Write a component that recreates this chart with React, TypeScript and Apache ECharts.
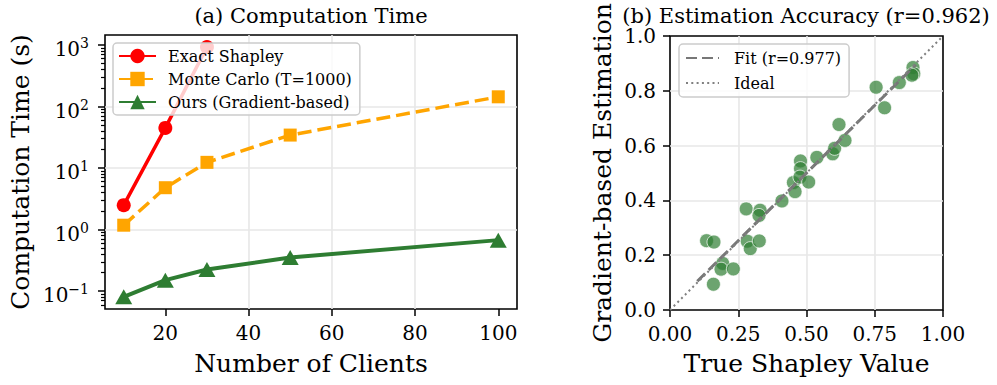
import React, { useEffect, useRef } from 'react';
import * as echarts from 'echarts';

// ---------- data ----------
const clients = [10, 20, 30, 50, 100];
const exactClients = [10, 20, 30];
const exactShapley = [2.5, 45, 930];
const monteCarlo = [1.18, 4.8, 12.4, 34.4, 144];
const ours = [0.081, 0.151, 0.225, 0.353, 0.675];

const xTicksLeft = [20, 40, 60, 80, 100];
const yMajorLeft = [0.1, 1, 10, 100, 1000];
const yMinorLeft = [
  0.06, 0.07, 0.08, 0.09,
  0.2, 0.3, 0.4, 0.5, 0.6, 0.7, 0.8, 0.9,
  2, 3, 4, 5, 6, 7, 8, 9,
  20, 30, 40, 50, 60, 70, 80, 90,
  200, 300, 400, 500, 600, 700, 800, 900,
];

const trueShapley = [
  0.134, 0.161, 0.193, 0.187, 0.232, 0.159,
  0.279, 0.330, 0.326, 0.283, 0.294, 0.327,
  0.410, 0.452, 0.458, 0.478, 0.478, 0.476, 0.508,
  0.538, 0.596, 0.603, 0.619, 0.641,
  0.755, 0.786, 0.840, 0.890, 0.893, 0.886,
];
const gradEstimate = [
  0.253, 0.248, 0.170, 0.149, 0.150, 0.094,
  0.369, 0.364, 0.345, 0.251, 0.224, 0.252,
  0.398, 0.465, 0.432, 0.544, 0.516, 0.485, 0.467,
  0.557, 0.570, 0.590, 0.677, 0.619,
  0.813, 0.738, 0.830, 0.885, 0.862, 0.857,
];
const fitX = [0.10, 0.90];
const fitY = [0.105, 0.895];
const idealX = [0, 1];
const idealY = [0, 1];

// ---------- styles ----------
const FONT = 'DejaVu Serif';
const GRID_LINE = { color: '#e7e7e7', width: 1.6 };

function supText(v: number) {
  const e = Math.round(Math.log10(v));
  const s = e < 0 ? '−' + String(-e) : String(e);
  return `{b|10}{s|${s}}`;
}

export default function App() {
  const ref = useRef<HTMLDivElement>(null);
  useEffect(() => {
    const chart = echarts.init(ref.current!, null, { renderer: 'svg' });
    const tickLabel = { fontFamily: FONT, fontSize: 20, color: '#000' };
    const nameStyle = { fontFamily: FONT, fontSize: 25, color: '#000' };
    const option: any = {
      animation: false,
      backgroundColor: '#fff',
      textStyle: { fontFamily: FONT },
      grid: [
        { left: 105, top: 35, width: 412, height: 274, show: true, borderColor: '#000', borderWidth: 1.6, backgroundColor: 'transparent', containLabel: false, outerBoundsMode: 'none' },
        { left: 670, top: 36, width: 273, height: 274, show: true, borderColor: '#000', borderWidth: 1.6, backgroundColor: 'transparent', containLabel: false, outerBoundsMode: 'none' },
      ],
      xAxis: [
        {
          type: 'value', gridIndex: 0, min: 5.5, max: 104.5,
          name: 'Number of Clients', nameLocation: 'middle', nameGap: 42, nameTextStyle: nameStyle,
          axisLine: { show: false },
          axisTick: { show: true, length: 7, lineStyle: { color: '#000', width: 1.5 }, customValues: xTicksLeft },
          axisLabel: { ...tickLabel, margin: 14, customValues: xTicksLeft },
          splitLine: { show: true, lineStyle: GRID_LINE, showMinLine: false, showMaxLine: false },
        },
        {
          type: 'value', gridIndex: 1, min: 0, max: 1, interval: 0.25,
          name: 'True Shapley Value', nameLocation: 'middle', nameGap: 41, nameTextStyle: nameStyle,
          axisLine: { show: false },
          axisTick: { show: true, length: 7, lineStyle: { color: '#000', width: 1.5 } },
          axisLabel: { ...tickLabel, margin: 14, formatter: (v: number) => v.toFixed(2), showMinLabel: true, showMaxLabel: true },
          splitLine: { show: true, lineStyle: GRID_LINE, showMinLine: false, showMaxLine: false },
        },
      ],
      yAxis: [
        {
          type: 'log', logBase: 10, gridIndex: 0, min: 0.0513, max: 1455, position: 'left',
          name: 'Computation Time (s)', nameLocation: 'middle', nameGap: 72, nameTextStyle: nameStyle,
          axisLine: { show: false },
          axisTick: { show: true, length: 7, lineStyle: { color: '#000', width: 1.5 }, customValues: yMajorLeft },
          axisLabel: {
            customValues: yMajorLeft, margin: 16, color: '#000',
            formatter: (v: number) => supText(v),
            padding: [8, 0, 0, 0],
            rich: {
              b: { fontFamily: FONT, fontSize: 20, lineHeight: 26, color: '#000' },
              s: { fontFamily: FONT, fontSize: 14, lineHeight: 14, verticalAlign: 'top', color: '#000' },
            },
          },
          splitLine: { show: true, lineStyle: GRID_LINE, showMinLine: false, showMaxLine: false },
          minorTick: { show: false },
        },
        {
          type: 'log', logBase: 10, gridIndex: 0, min: 0.0513, max: 1455, position: 'left', offset: 0,
          axisLine: { show: false },
          axisTick: { show: true, length: 4, lineStyle: { color: '#000', width: 1.2 }, customValues: yMinorLeft },
          axisLabel: { show: false },
          splitLine: { show: false },
        },
        {
          type: 'value', gridIndex: 1, min: 0, max: 1, interval: 0.2, position: 'left',
          name: 'Gradient-based Estimation', nameLocation: 'middle', nameGap: 55,
          nameTextStyle: nameStyle,
          axisLine: { show: false },
          axisTick: { show: true, length: 7, lineStyle: { color: '#000', width: 1.5 } },
          axisLabel: { ...tickLabel, margin: 14, formatter: (v: number) => v.toFixed(1), showMinLabel: true, showMaxLabel: true },
          splitLine: { show: true, lineStyle: GRID_LINE, showMinLine: false, showMaxLine: false },
        },
      ],
      legend: [
        {
          data: ['Exact Shapley', 'Monte Carlo (T=1000)', 'Ours (Gradient-based)'],
          orient: 'vertical', left: 113, top: 43,
          itemWidth: 37, itemHeight: 18, itemGap: 7,
          padding: [5, 8, 5, 5],
          backgroundColor: 'rgba(255,255,255,0.8)', borderColor: '#cccccc', borderWidth: 1.5, borderRadius: 4,
          textStyle: { fontFamily: FONT, fontSize: 16, color: '#000', padding: [0, 0, 0, 7] },
        },
        {
          data: ['Fit (r=0.977)', 'Ideal'],
          orient: 'vertical', left: 679, top: 44,
          itemWidth: 33, itemHeight: 14, itemGap: 9,
          padding: [6, 8, 6, 6],
          itemStyle: { opacity: 0 },
          backgroundColor: 'rgba(255,255,255,0.8)', borderColor: '#cccccc', borderWidth: 1.5, borderRadius: 4,
          textStyle: { fontFamily: FONT, fontSize: 16, color: '#000', padding: [0, 0, 0, 10] },
        },
      ],
      graphic: [
        { type: 'text', x: 311, y: 16, style: { text: '(a) Computation Time', fill: '#000', fontFamily: FONT, fontSize: 21, align: 'center', verticalAlign: 'middle', textAlign: 'center', textVerticalAlign: 'middle' } },
        { type: 'text', x: 806, y: 16, style: { text: '(b) Estimation Accuracy (r=0.962)', fill: '#000', fontFamily: FONT, fontSize: 21, align: 'center', verticalAlign: 'middle', textAlign: 'center', textVerticalAlign: 'middle' } },
      ],
      series: [
        {
          name: 'Exact Shapley', type: 'line', xAxisIndex: 0, yAxisIndex: 0,
          data: exactClients.map((c, i) => [c, exactShapley[i]]),
          symbol: 'circle', symbolSize: 14, showSymbol: true,
          lineStyle: { color: '#ff0000', width: 3.5 }, itemStyle: { color: '#ff0000' },
        },
        {
          name: 'Monte Carlo (T=1000)', type: 'line', xAxisIndex: 0, yAxisIndex: 0,
          data: clients.map((c, i) => [c, monteCarlo[i]]),
          symbol: 'rect', symbolSize: 13, showSymbol: true,
          lineStyle: { color: '#ffa500', width: 3.5, type: [14, 6] }, itemStyle: { color: '#ffa500' },
        },
        {
          name: 'Ours (Gradient-based)', type: 'line', xAxisIndex: 0, yAxisIndex: 0,
          data: clients.map((c, i) => [c, ours[i]]),
          symbol: 'triangle', symbolSize: [17, 15], showSymbol: true,
          lineStyle: { color: '#2e7d32', width: 4 }, itemStyle: { color: '#2e7d32' },
        },
        {
          name: 'scatter', type: 'scatter', xAxisIndex: 1, yAxisIndex: 2,
          data: trueShapley.map((x, i) => [x, gradEstimate[i]]),
          symbolSize: 14,
          itemStyle: { color: '#2e7d32', opacity: 0.7, borderColor: '#ffffff', borderWidth: 1 },
        },
        {
          name: 'Fit (r=0.977)', type: 'line', xAxisIndex: 1, yAxisIndex: 2,
          data: fitX.map((x, i) => [x, fitY[i]]),
          symbol: 'none', showSymbol: false,
          lineStyle: { color: '#777777', width: 3, type: [11, 5] }, itemStyle: { color: '#777777' },
        },
        {
          name: 'Ideal', type: 'line', xAxisIndex: 1, yAxisIndex: 2,
          data: idealX.map((x, i) => [x, idealY[i]]),
          symbol: 'none', showSymbol: false,
          lineStyle: { color: '#808080', width: 2, type: [2, 3.3] }, itemStyle: { color: '#808080' },
        },
      ],
    };
    chart.setOption(option);
    return () => chart.dispose();
  }, []);
  return (
    <div
      ref={ref}
      style={{ position: 'absolute', left: 0, top: 0, width: 997, height: 385, background: '#fff' }}
    />
  );
}
